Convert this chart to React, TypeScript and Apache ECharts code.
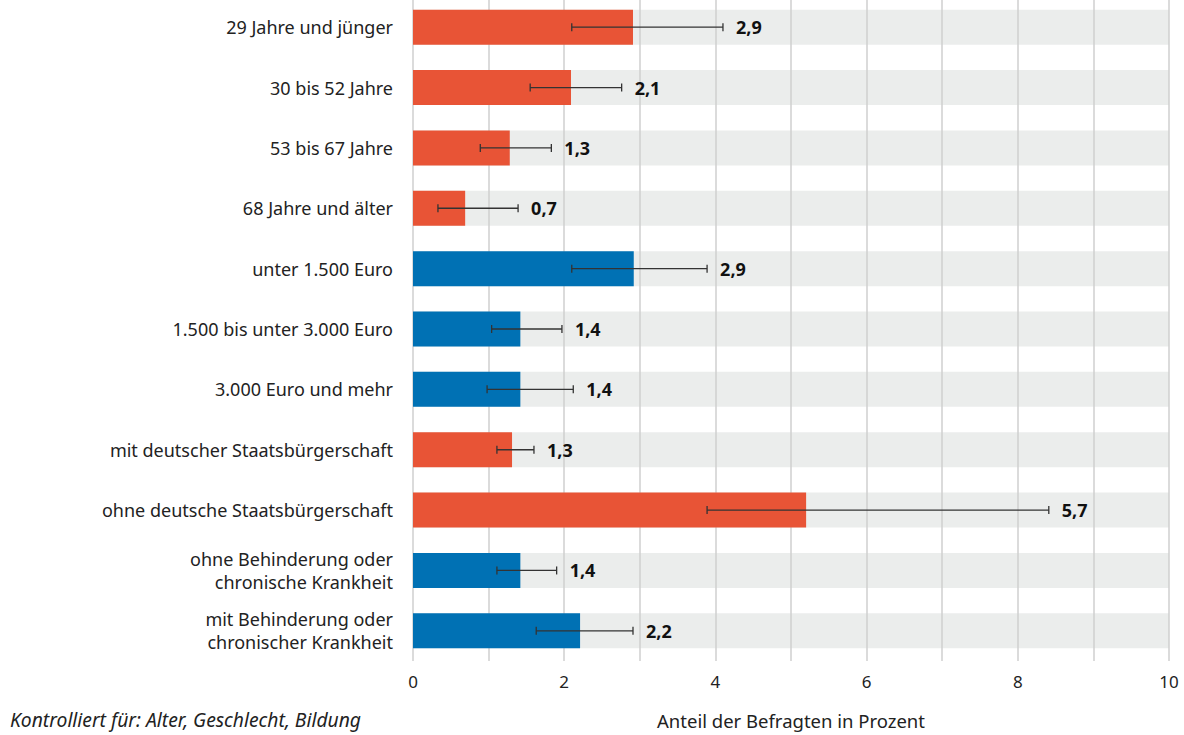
import React, { useEffect, useRef } from "react";
import * as echarts from "echarts";

const categories = [
  "29 Jahre und jünger",
  "30 bis 52 Jahre",
  "53 bis 67 Jahre",
  "68 Jahre und älter",
  "unter 1.500 Euro",
  "1.500 bis unter 3.000 Euro",
  "3.000 Euro und mehr",
  "mit deutscher Staatsbürgerschaft",
  "ohne deutsche Staatsbürgerschaft",
  "ohne Behinderung oder\nchronische Krankheit",
  "mit Behinderung oder\nchronischer Krankheit",
];
const groups = ["alter", "alter", "alter", "alter", "einkommen", "einkommen", "einkommen", "staat", "staat", "gesundheit", "gesundheit"];
const values = [2.91, 2.09, 1.28, 0.69, 2.92, 1.42, 1.42, 1.31, 5.2, 1.42, 2.21];
const lower = [2.1, 1.55, 0.89, 0.33, 2.1, 1.04, 0.98, 1.11, 3.89, 1.11, 1.63];
const upper = [4.1, 2.76, 1.83, 1.39, 3.89, 1.97, 2.12, 1.6, 8.41, 1.9, 2.91];
const valueLabels = ["2,9", "2,1", "1,3", "0,7", "2,9", "1,4", "1,4", "1,3", "5,7", "1,4", "2,2"];
const xTickLabels = ["0", "2", "4", "6", "8", "10"];
const axisMax = 10;

const groupColors: Record<string, string> = {
  alter: "#E85436",
  staat: "#E85436",
  einkommen: "#0071B4",
  gesundheit: "#0071B4",
};

const FONT = "'Noto Sans', 'Open Sans', sans-serif";

export default function App() {
  const ref = useRef<HTMLDivElement>(null);
  useEffect(() => {
    if (!ref.current) return;
    const chart = echarts.init(ref.current, undefined, { renderer: "svg" });
    const option: any = {
      animation: false,
      backgroundColor: "#ffffff",
      textStyle: { fontFamily: FONT },
      grid: { left: 413, right: 15, top: 0, bottom: 70, containLabel: false },
      xAxis: {
        type: "value",
        min: 0,
        max: axisMax,
        interval: 1,
        z: 3,
        axisLine: { show: false },
        axisTick: { show: false },
        splitLine: { show: true, lineStyle: { color: "#cfcfcf", width: 1.5 } },
        axisLabel: {
          margin: 12,
          fontSize: 17,
          color: "#222",
          fontFamily: FONT,
          formatter: (v: number) => (xTickLabels.includes(String(v)) ? String(v) : ""),
        },
        name: "Anteil der Befragten in Prozent",
        nameLocation: "middle",
        nameGap: 50,
        nameTextStyle: { fontSize: 18.5, color: "#222", fontFamily: FONT },
      },
      yAxis: {
        type: "category",
        data: categories,
        inverse: true,
        axisLine: { show: false },
        axisTick: { show: false },
        splitLine: { show: false },
        axisLabel: {
          margin: 20,
          fontSize: 18,
          lineHeight: 23,
          color: "#222",
          align: "right",
          fontFamily: FONT,
        },
      },
      graphic: [
        {
          type: "text",
          left: 10,
          top: 713,
          style: {
            text: "Kontrolliert für: Alter, Geschlecht, Bildung",
            font: `italic 19.3px ${FONT}`,
            fill: "#222",
          },
        },
      ],
      series: [
        {
          type: "bar",
          name: "band",
          data: categories.map(() => axisMax),
          barWidth: 35,
          barGap: "-100%",
          itemStyle: { color: "#EBEDEC" },
          z: 1,
          silent: true,
        },
        {
          type: "bar",
          name: "Anteil",
          data: values.map((v, i) => ({ value: v, itemStyle: { color: groupColors[groups[i]] } })),
          barWidth: 35,
          barGap: "-100%",
          z: 5,
        },
        {
          type: "custom",
          name: "Fehler",
          z: 6,
          data: categories.map((_, i) => [i, lower[i], upper[i]]),
          encode: { y: 0, x: [1, 2] },
          renderItem: (params: any, api: any) => {
            const idx = api.value(0);
            const lo = api.coord([api.value(1), idx]);
            const hi = api.coord([api.value(2), idx]);
            const cap = 4;
            const style = { stroke: "#333", lineWidth: 1.3 };
            return {
              type: "group",
              children: [
                { type: "line", shape: { x1: lo[0], y1: lo[1], x2: hi[0], y2: hi[1] }, style },
                { type: "line", shape: { x1: lo[0], y1: lo[1] - cap, x2: lo[0], y2: lo[1] + cap }, style },
                { type: "line", shape: { x1: hi[0], y1: hi[1] - cap, x2: hi[0], y2: hi[1] + cap }, style },
                {
                  type: "text",
                  x: hi[0] + 13,
                  y: hi[1],
                  style: {
                    text: valueLabels[params.dataIndex],
                    font: `bold 18px ${FONT}`,
                    fill: "#111",
                    textVerticalAlign: "middle",
                    verticalAlign: "middle",
                  },
                },
              ],
            };
          },
        },
      ],
    };
    chart.setOption(option);
    return () => chart.dispose();
  }, []);
  return (
    <div
      ref={ref}
      style={{ position: "fixed", left: 0, top: -3, width: 1184, height: 738 }}
    />
  );
}
